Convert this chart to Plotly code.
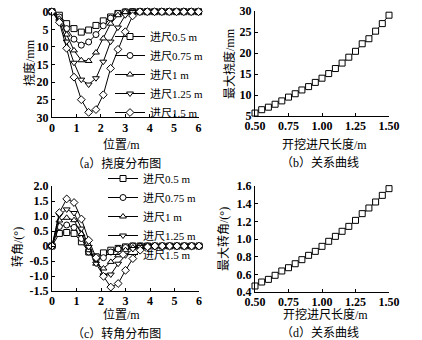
import plotly.graph_objects as go

# ---------------- data ----------------
pos = [0, 0.3, 0.6, 0.9, 1.2, 1.5, 1.8, 2.1, 2.4, 2.7, 3.0, 3.3, 3.6, 3.9,
       4.2, 4.5, 4.8, 5.1, 5.4, 5.7, 6.0]
series_names = ["进尺0.5 m", "进尺0.75 m", "进尺1 m", "进尺1.25 m", "进尺1.5 m"]

defl_05 = [0, 1.0, 3.4, 4.8, 5.8, 5.2, 3.9, 2.6, 1.5, 0.5, 0.1, 0, 0, 0, 0, 0, 0, 0, 0, 0, 0]
defl_075 = [0, 1.5, 4.8, 7.8, 9.5, 8.6, 6.5, 4.0, 1.8, 0.5, 0, 0, 0, 0, 0, 0, 0, 0, 0, 0, 0]
defl_1 = [0, 2.0, 6.5, 11.0, 13.8, 14.0, 11.6, 7.6, 3.4, 1.0, 0.1, 0, 0, 0, 0, 0, 0, 0, 0, 0, 0]
defl_125 = [0, 2.5, 8.5, 14.5, 19.3, 20.7, 18.9, 14.2, 8.5, 4.5, 1.0, 0.1, 0, 0, 0, 0, 0, 0, 0, 0, 0]
defl_15 = [0, 3.0, 10.4, 18.6, 25.0, 28.6, 27.8, 23.6, 16.1, 10.7, 5.7, 1.2, 0, 0, 0, 0, 0, 0, 0, 0, 0]

rot_05 = [0, 0.42, 0.45, 0.42, 0.14, -0.20, -0.36, -0.23, -0.14, -0.08, -0.03, 0, 0, 0, 0, 0, 0, 0, 0, 0, 0]
rot_075 = [0, 0.65, 0.70, 0.62, 0.25, -0.20, -0.45, -0.39, -0.20, -0.10, -0.05, 0, 0, 0, 0, 0, 0, 0, 0, 0, 0]
rot_1 = [0, 0.85, 0.94, 0.86, 0.40, -0.14, -0.59, -0.75, -0.53, -0.31, -0.14, -0.05, 0, 0, 0, 0, 0, 0, 0, 0, 0]
rot_125 = [0, 1.03, 1.22, 1.10, 0.58, -0.03, -0.59, -0.98, -0.95, -0.59, -0.31, -0.10, -0.03, 0, 0, 0, 0, 0, 0, 0, 0]
rot_15 = [0, 1.11, 1.57, 1.45, 0.90, 0.19, -0.39, -1.01, -1.37, -1.25, -0.81, -0.42, -0.14, -0.03, 0, 0, 0, 0, 0, 0, 0]

advance = [0.50, 0.55, 0.60, 0.65, 0.70, 0.75, 0.80, 0.85, 0.90, 0.95, 1.00,
           1.05, 1.10, 1.15, 1.20, 1.25, 1.30, 1.35, 1.40, 1.45, 1.50]
max_defl = [5.7, 6.5, 7.1, 7.8, 8.6, 9.5, 10.3, 11.2, 12.0, 13.0, 14.0,
            15.1, 16.3, 17.6, 19.0, 20.4, 22.2, 23.4, 25.2, 27.0, 29.0]
max_rot = [0.468, 0.513, 0.543, 0.589, 0.638, 0.675, 0.720, 0.766, 0.815, 0.860, 0.917,
           0.974, 1.030, 1.087, 1.143, 1.211, 1.287, 1.351, 1.419, 1.494, 1.570]

defl_ticks = [0, 5, 10, 15, 20, 25, 30]
pos_ticks = [0, 1, 2, 3, 4, 5, 6]
rot_ticks = [-1.5, -1.0, -0.5, 0, 0.5, 1.0, 1.5, 2.0]
rot_tick_text = ["-1.5", "-1.0", "-0.5", "0", "0.5", "1.0", "1.5", "2.0"]
adv_ticks = [0.50, 0.75, 1.00, 1.25, 1.50]
maxdefl_ticks = [5, 10, 15, 20, 25, 30]
maxrot_ticks = [0.4, 0.6, 0.8, 1.0, 1.2, 1.4, 1.6]

symbols = ["square", "circle", "triangle-up", "triangle-down", "diamond"]

# ---------------- figure ----------------
W, H = 422, 340
FONT = "Liberation Serif, Noto Sans CJK SC, serif"
fig = go.Figure()

def line_trace(x, y, sym, name, xa, ya, legend=None, showlegend=False):
    return go.Scatter(
        x=x, y=y, mode="lines+markers", name=name,
        xaxis=xa, yaxis=ya, legend=legend, showlegend=showlegend,
        line=dict(color="black", width=1),
        marker=dict(symbol=sym, size=6, color="white",
                    line=dict(color="black", width=1)),
        cliponaxis=False,
    )

for d, s, n in zip([defl_05, defl_075, defl_1, defl_125, defl_15], symbols, series_names):
    fig.add_trace(line_trace(pos, d, s, n, "x", "y", "legend", True))
fig.add_trace(line_trace(advance, max_defl, "square", "最大挠度", "x2", "y2"))
for r, s, n in zip([rot_05, rot_075, rot_1, rot_125, rot_15], symbols, series_names):
    fig.add_trace(line_trace(pos, r, s, n, "x3", "y3", "legend2", True))
fig.add_trace(line_trace(advance, max_rot, "square", "最大转角", "x4", "y4"))

def px_x(p):
    return p / W

def px_y(p):
    return 1 - p / H

tickfont = dict(family="Liberation Serif", size=12, color="black", weight="bold")
axis_common = dict(showline=True, linecolor="black", linewidth=1, mirror=False,
                   ticks="inside", ticklen=3, tickwidth=1, tickcolor="black",
                   showgrid=False, zeroline=False, tickfont=tickfont, automargin=False)
xaxis_common = dict(axis_common, ticklabelstandoff=-1)

fig.update_layout(
    template="none",
    width=W, height=H, autosize=False,
    margin=dict(l=0, r=0, t=0, b=0, pad=0, autoexpand=False),
    paper_bgcolor="white", plot_bgcolor="white",
    font=dict(family=FONT, color="black"),
    xaxis=dict(domain=[px_x(52), px_x(198.5)], range=[0, 6], tickvals=pos_ticks,
               anchor="y", **xaxis_common),
    yaxis=dict(domain=[px_y(117.3), px_y(11.7)], range=[30, 0], tickvals=defl_ticks,
               anchor="x", **axis_common),
    xaxis2=dict(domain=[px_x(255), px_x(389)], range=[0.5, 1.5], tickvals=adv_ticks,
                tickformat=".2f", anchor="y2", **xaxis_common),
    yaxis2=dict(domain=[px_y(116), px_y(11)], range=[5, 30], tickvals=maxdefl_ticks,
                anchor="x2", **axis_common),
    xaxis3=dict(domain=[px_x(52), px_x(199)], range=[0, 6], tickvals=pos_ticks,
                anchor="y3", **xaxis_common),
    yaxis3=dict(domain=[px_y(291), px_y(186)], range=[-1.5, 2.0], tickvals=rot_ticks,
                ticktext=rot_tick_text, anchor="x3", **axis_common),
    xaxis4=dict(domain=[px_x(255), px_x(389)], range=[0.5, 1.5], tickvals=adv_ticks,
                tickformat=".2f", anchor="y4", **xaxis_common),
    yaxis4=dict(domain=[px_y(292), px_y(186)], range=[0.4, 1.6], tickvals=maxrot_ticks,
                tickformat=".1f", anchor="x4", **axis_common),
    legend=dict(x=px_x(110), y=px_y(22), xanchor="left", yanchor="top",
                bgcolor="rgba(0,0,0,0)", borderwidth=0,
                font=dict(family=FONT, size=11, color="black"), itemwidth=30),
    legend2=dict(x=px_x(103), y=px_y(164), xanchor="left", yanchor="top",
                 bgcolor="rgba(0,0,0,0)", borderwidth=0,
                 font=dict(family=FONT, size=11, color="black"), itemwidth=30),
)

labels = [
    ("挠度/mm", 29, 63, -90),
    ("最大挠度/mm", 229, 64, -90),
    ("转角/(°)", 17, 247, -90),
    ("最大转角/(°)", 224, 239, -90),
    ("位置/m", 121, 144, 0),
    ("开挖进尺长度/m", 324, 144, 0),
    ("位置/m", 121, 314, 0),
    ("开挖进尺长度/m", 325, 314, 0),
    ("（a）挠度分布图", 116, 163, 0),
    ("（b）关系曲线", 320, 163, 0),
    ("（c）转角分布图", 117, 333, 0),
    ("（d）关系曲线", 320, 333, 0),
]
for text, x, y, ang in labels:
    fig.add_annotation(text=text, x=px_x(x), y=px_y(y), xref="paper", yref="paper",
                       showarrow=False, textangle=ang, xanchor="center", yanchor="middle",
                       font=dict(family=FONT, size=12, color="black"))

fig.write_html("out.html")
